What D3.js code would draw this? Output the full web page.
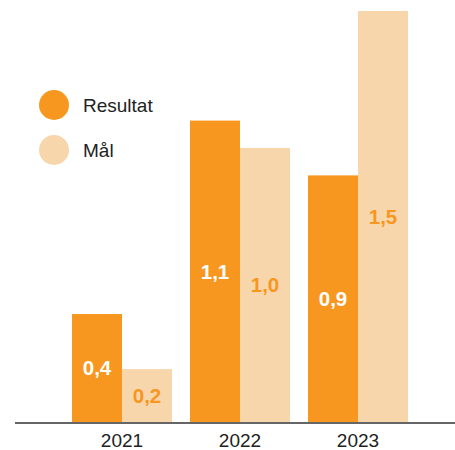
<!DOCTYPE html>
<html>
<head>
<meta charset="utf-8">
<script src="https://cdn.jsdelivr.net/npm/d3@7"></script>
<style>
  body { margin: 0; background: #fff; }
  text { font-family: "Liberation Sans", Arial, sans-serif; }
</style>
</head>
<body>
<script>
const years = ["2021", "2022", "2023"];
const seriesNames = ["Resultat", "Mål"];
const resultat = [0.394, 1.1, 0.9];
const maal = [0.193, 1.0, 1.5];

const w = 455, h = 450;
const colors = ["#F7971F", "#F8D6AB"];
const labelColors = ["#ffffff", "#F7971F"];

const svg = d3.select("body").append("svg").attr("width", w).attr("height", h);

const x0 = d3.scaleBand().domain(years).range([63, 417]).paddingInner(18 / 118).paddingOuter(9 / 118);
const x1 = d3.scaleBand().domain(seriesNames).range([0, x0.bandwidth()]);
const y = d3.scaleLinear().domain([0, 1.5]).range([422, 11]);

const rows = years.map((yr, i) => ({ year: yr, values: [resultat[i], maal[i]] }));
const fmt = v => d3.format(".1f")(v).replace(".", ",");

const groups = svg.selectAll(".grp")
  .data(rows).enter().append("g")
  .attr("class", "grp")
  .attr("transform", d => "translate(" + x0(d.year) + ",0)");

groups.selectAll("rect")
  .data(d => d.values.map((v, j) => ({ name: seriesNames[j], v: v, j: j })))
  .enter().append("rect")
  .attr("x", d => x1(d.name))
  .attr("y", d => y(d.v))
  .attr("width", x1.bandwidth())
  .attr("height", d => y(0) - y(d.v))
  .attr("fill", d => colors[d.j]);

groups.selectAll(".val")
  .data(d => d.values.map((v, j) => ({ name: seriesNames[j], v: v, j: j })))
  .enter().append("text")
  .attr("class", "val")
  .attr("x", d => x1(d.name) + x1.bandwidth() / 2)
  .attr("y", d => (y(d.v) + y(0)) / 2)
  .attr("dy", "0.36em")
  .attr("text-anchor", "middle")
  .attr("font-size", "20.5px")
  .attr("font-weight", "bold")
  .attr("fill", d => labelColors[d.j])
  .text(d => fmt(d.v));

// baseline
svg.append("line")
  .attr("x1", 15).attr("x2", w)
  .attr("y1", y(0) + 1).attr("y2", y(0) + 1)
  .attr("stroke", "#333").attr("stroke-width", 1.5);

// year labels
svg.selectAll(".year")
  .data(years).enter().append("text")
  .attr("class", "year")
  .attr("x", d => x0(d) + x0.bandwidth() / 2)
  .attr("y", 447)
  .attr("text-anchor", "middle")
  .attr("font-size", "19px")
  .attr("fill", "#222")
  .text(d => d);

// legend
const legend = svg.append("g").attr("id", "legend");
seriesNames.forEach((n, i) => {
  legend.append("circle")
    .attr("cx", 54).attr("cy", 105 + i * 45).attr("r", 15)
    .attr("fill", colors[i]);
  legend.append("text")
    .attr("x", 83).attr("y", 105 + i * 45)
    .attr("dy", "0.36em")
    .attr("font-size", "19px")
    .attr("fill", "#222")
    .text(n);
});
</script>
</body>
</html>
